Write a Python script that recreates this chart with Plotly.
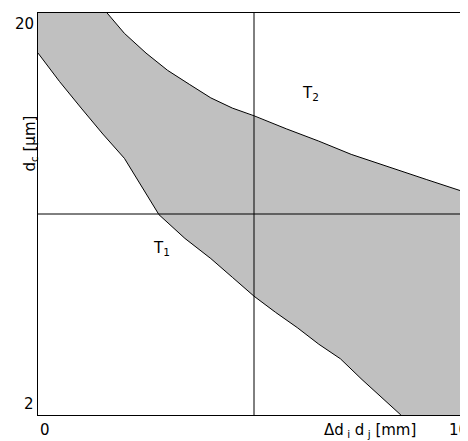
import plotly.graph_objects as go
import math

lower_x = [0, 0.5, 1, 1.5, 2, 2.4, 2.8, 3.4, 4, 4.5, 5, 5.5, 6, 6.5, 7, 7.5, 8, 8.4]
lower_y = [15.9, 13.5, 11.6, 10.0, 8.7, 7.4, 6.3, 5.5, 4.9, 4.4, 3.95, 3.6, 3.3, 3.0, 2.76, 2.45, 2.19, 2.0]
upper_x = [1.6, 2.0, 2.5, 3.0, 3.5, 4.0, 4.5, 5, 5.75, 6.5, 7.25, 8, 9, 10]
upper_y = [20, 17.8, 15.9, 14.4, 13.3, 12.3, 11.6, 11.1, 10.3, 9.6, 8.9, 8.35, 7.7, 7.1]
x_ticks = [0, 10]
y_ticks = [2, 20]

poly_x = lower_x + [10] + upper_x[::-1] + [0]
poly_y = lower_y + [2] + upper_y[::-1] + [20]

fig = go.Figure()
fig.add_trace(go.Scatter(x=poly_x, y=poly_y, fill="toself", fillcolor="#c0c0c0",
                         line=dict(width=0), mode="lines", hoverinfo="skip"))
fig.add_trace(go.Scatter(x=lower_x, y=lower_y, mode="lines", line=dict(color="black", width=1)))
fig.add_trace(go.Scatter(x=upper_x, y=upper_y, mode="lines", line=dict(color="black", width=1)))
fig.add_shape(type="line", x0=5, x1=5, y0=0, y1=1, yref="paper", line=dict(color="black", width=1))
fig.add_shape(type="line", x0=0, x1=1, xref="paper", y0=math.sqrt(40), y1=math.sqrt(40), line=dict(color="black", width=1))

font = dict(family="DejaVu Sans", size=15, color="black")
ann = [
    dict(text="T<sub>2</sub>", x=6.3, y=math.log10(12.6), showarrow=False, font=font),
    dict(text="T<sub>1</sub>", x=2.85, y=math.log10(5.2), showarrow=False, font=font),
    dict(text="d<sub>c</sub> [µm]", xref="paper", yref="paper", x=-0.045, y=0.75, textangle=-90,
         showarrow=False, font=font),
    dict(text="Δd<sub> i</sub> d<sub> j</sub> [mm]", xref="paper", yref="paper", x=0.88, y=-0.01,
         yanchor="top", showarrow=False, font=font),
]
for t in x_ticks:
    ann.append(dict(text=str(t), x=t, xanchor="left" if t == 0 else "right", yref="paper", y=-0.01,
                    yanchor="top", showarrow=False, font=font))
for t in y_ticks:
    ann.append(dict(text=str(t), xref="paper", x=-0.005, xanchor="right", y=math.log10(t),
                    yanchor="bottom" if t == 2 else "top", showarrow=False, font=font))

fig.update_layout(
    width=468, height=441, showlegend=False, plot_bgcolor="white", paper_bgcolor="white",
    margin=dict(l=30, r=6, t=5, b=34), font=font,
    xaxis=dict(range=[0, 10], showticklabels=False, showgrid=False, zeroline=False, showline=True,
               linecolor="black", mirror=True, ticks=""),
    yaxis=dict(type="log", range=[math.log10(2), math.log10(20)], showticklabels=False, showgrid=False,
               zeroline=False, showline=True, linecolor="black", mirror=True, ticks=""),
    annotations=ann,
)
fig.write_html("out.html")
